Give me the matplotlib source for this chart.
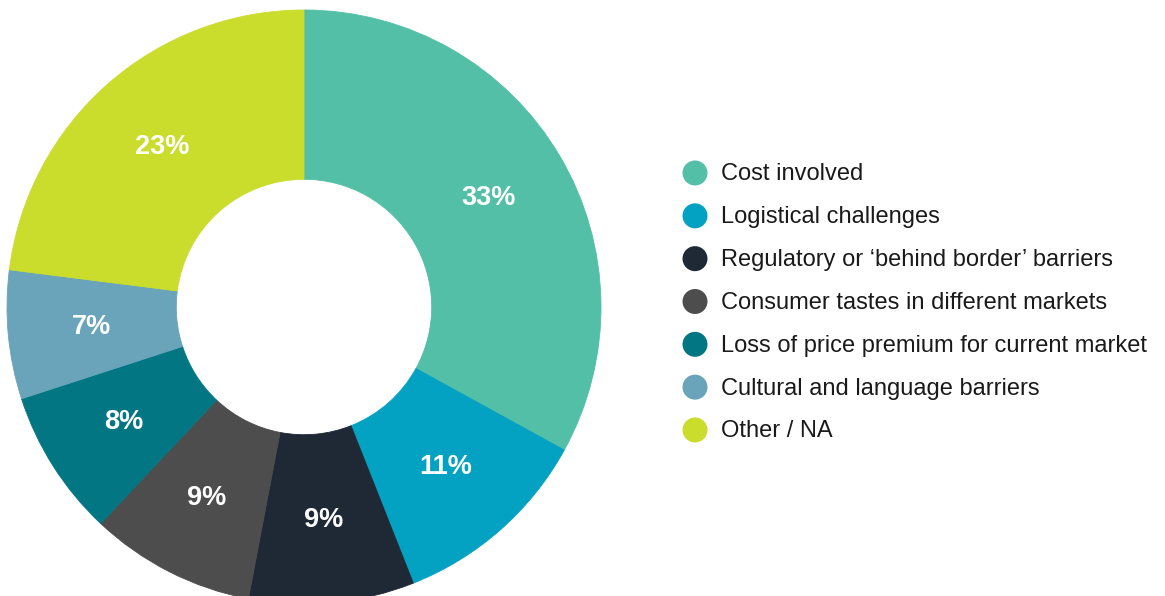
import matplotlib.pyplot as plt
from matplotlib.patches import Ellipse

# share of respondents per barrier
categories = ["Cost involved", "Logistical challenges",
              "Regulatory or \u2018behind border\u2019 barriers",
              "Consumer tastes in different markets",
              "Loss of price premium for current market",
              "Cultural and language barriers", "Other / NA"]
values = [33, 11, 9, 9, 8, 7, 23]
colors = ["#52BFA6", "#03A1C2", "#1E2935", "#4D4D4D", "#037683", "#69A4BA", "#CADC2C"]

plt.rcParams['font.family'] = ['Liberation Sans', 'DejaVu Sans']

W, H = 1165, 596
fig = plt.figure(figsize=(W / 100, H / 100), dpi=100)

# donut axes, placed in pixels (centre 305,307 from top, radius 297)
cx, cy, r = 304, 307, 297
ax = fig.add_axes([(cx - r) / W, (H - cy - r) / H, 2 * r / W, 2 * r / H])
wedges, texts, autotexts = ax.pie(
    values, colors=colors, startangle=90, counterclock=False, radius=1,
    autopct=lambda p: "%d%%" % round(p), pctdistance=0.72,
    wedgeprops=dict(width=0.57, linewidth=0.6),
    textprops=dict(color="white", fontsize=19.5, fontweight="bold"))
for w, c in zip(wedges, colors):
    w.set_edgecolor(c)
ax.set_xlim(-1, 1)
ax.set_ylim(-1, 1)
ax.set_aspect("equal")
ax.axis("off")

# legend drawn by hand
lx, ly0, step = 695, 173, 42.83
for i, (lab, col) in enumerate(zip(categories, colors)):
    y = ly0 + i * step
    fig.patches.append(Ellipse((lx / W, 1 - y / H), 25 / W, 25 / H, transform=fig.transFigure,
                               facecolor=col, edgecolor="none"))
    fig.text(721 / W, 1 - (y + 1.5) / H, lab, fontsize=17, color="#1a1a1a", va="center", ha="left")

fig.savefig("out.png", dpi=100)
